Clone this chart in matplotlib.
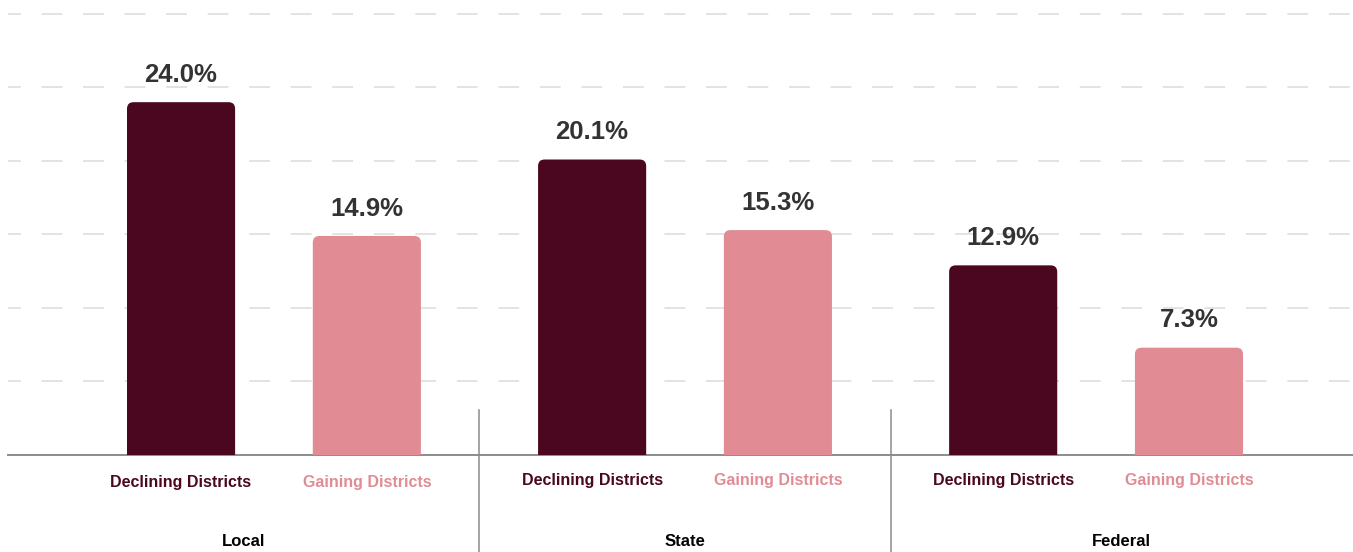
import matplotlib
matplotlib.use("Agg")
import matplotlib.pyplot as plt
from matplotlib.patches import FancyBboxPatch
from matplotlib.transforms import blended_transform_factory

# ── Данные ────────────────────────────────────────────────────────────────
groups    = ["Local", "State", "Federal"]
series    = ["Declining Districts", "Gaining Districts"]
declining = [24.0, 20.1, 12.9]
gaining   = [14.9, 15.3, 7.3]

colors  = ["#4b0720", "#e18c94"]
W, H    = 1353, 552
DPI     = 100

fig = plt.figure(figsize=(W / DPI, H / DPI), dpi=DPI)
# оси: от x=8 до правого края, от базовой линии (y=455) до верха
ax = fig.add_axes([8 / W, (H - 455) / H, (W - 8) / W, 455 / H])
ax.set_xlim(-0.647, 2.625)
ax.set_ylim(0, 30.95)

ax.set_yticks([5, 10, 15, 20, 25, 30])
ax.grid(axis="y", color="#e0e0e0", linewidth=1.3, linestyle=(4.4, (11.5, 11.5)))
ax.set_axisbelow(True)
ax.set_xticks([])
ax.tick_params(left=False, labelleft=False)
for s in ["top", "right", "left"]:
    ax.spines[s].set_visible(False)
ax.spines["bottom"].set_color("#8c8c8c")
ax.spines["bottom"].set_linewidth(1.4)

# соотношение масштабов для скругления углов
px_x = (W - 8) / (2.625 + 0.647)
px_y = 455 / 30.95
aspect = px_x / px_y

offset = 0.226
bw = 0.263
bold = dict(family=["Liberation Sans", "DejaVu Sans"], weight="bold")
cat_y = [-20, -18, -18]

trans = blended_transform_factory(ax.transData, ax.transAxes)

for i, g in enumerate(groups):
    for j, vals in enumerate([declining, gaining]):
        v = vals[i]
        xc = i + (offset if j else -offset)
        patch = FancyBboxPatch((xc - bw / 2, -2), bw, v + 2,
                               boxstyle="round,pad=0,rounding_size=0.016",
                               mutation_aspect=aspect,
                               facecolor=colors[j], edgecolor="none", zorder=3)
        ax.add_patch(patch)
        ax.annotate(f"{v:.1f}%", (xc, v), xytext=(0, 11), textcoords="offset points",
                    ha="center", va="bottom", fontsize=18.5, color="#333333", **bold)
        ax.annotate(series[j], (xc, 0), xytext=(0, cat_y[i]), textcoords="offset points",
                    ha="center", va="center", fontsize=11.5, color=colors[j],
                    annotation_clip=False, **bold)
    # подпись группы по центру своей секции
    left = -0.647 if i == 0 else i - 0.5
    right = 2.625 if i == len(groups) - 1 else i + 0.5
    ax.annotate(g, ((left + right) / 2, 0), xytext=(0, -62), textcoords="offset points",
                ha="center", va="center", fontsize=12, color="black",
                annotation_clip=False, **bold)

# вертикальные разделители между группами
for xs in [0.5, 1.5]:
    ax.plot([xs, xs], [0.099, -0.22], transform=trans, color="#8c8c8c",
            linewidth=1.1, clip_on=False, zorder=1)

fig.savefig("out.png", dpi=DPI, facecolor="white")
